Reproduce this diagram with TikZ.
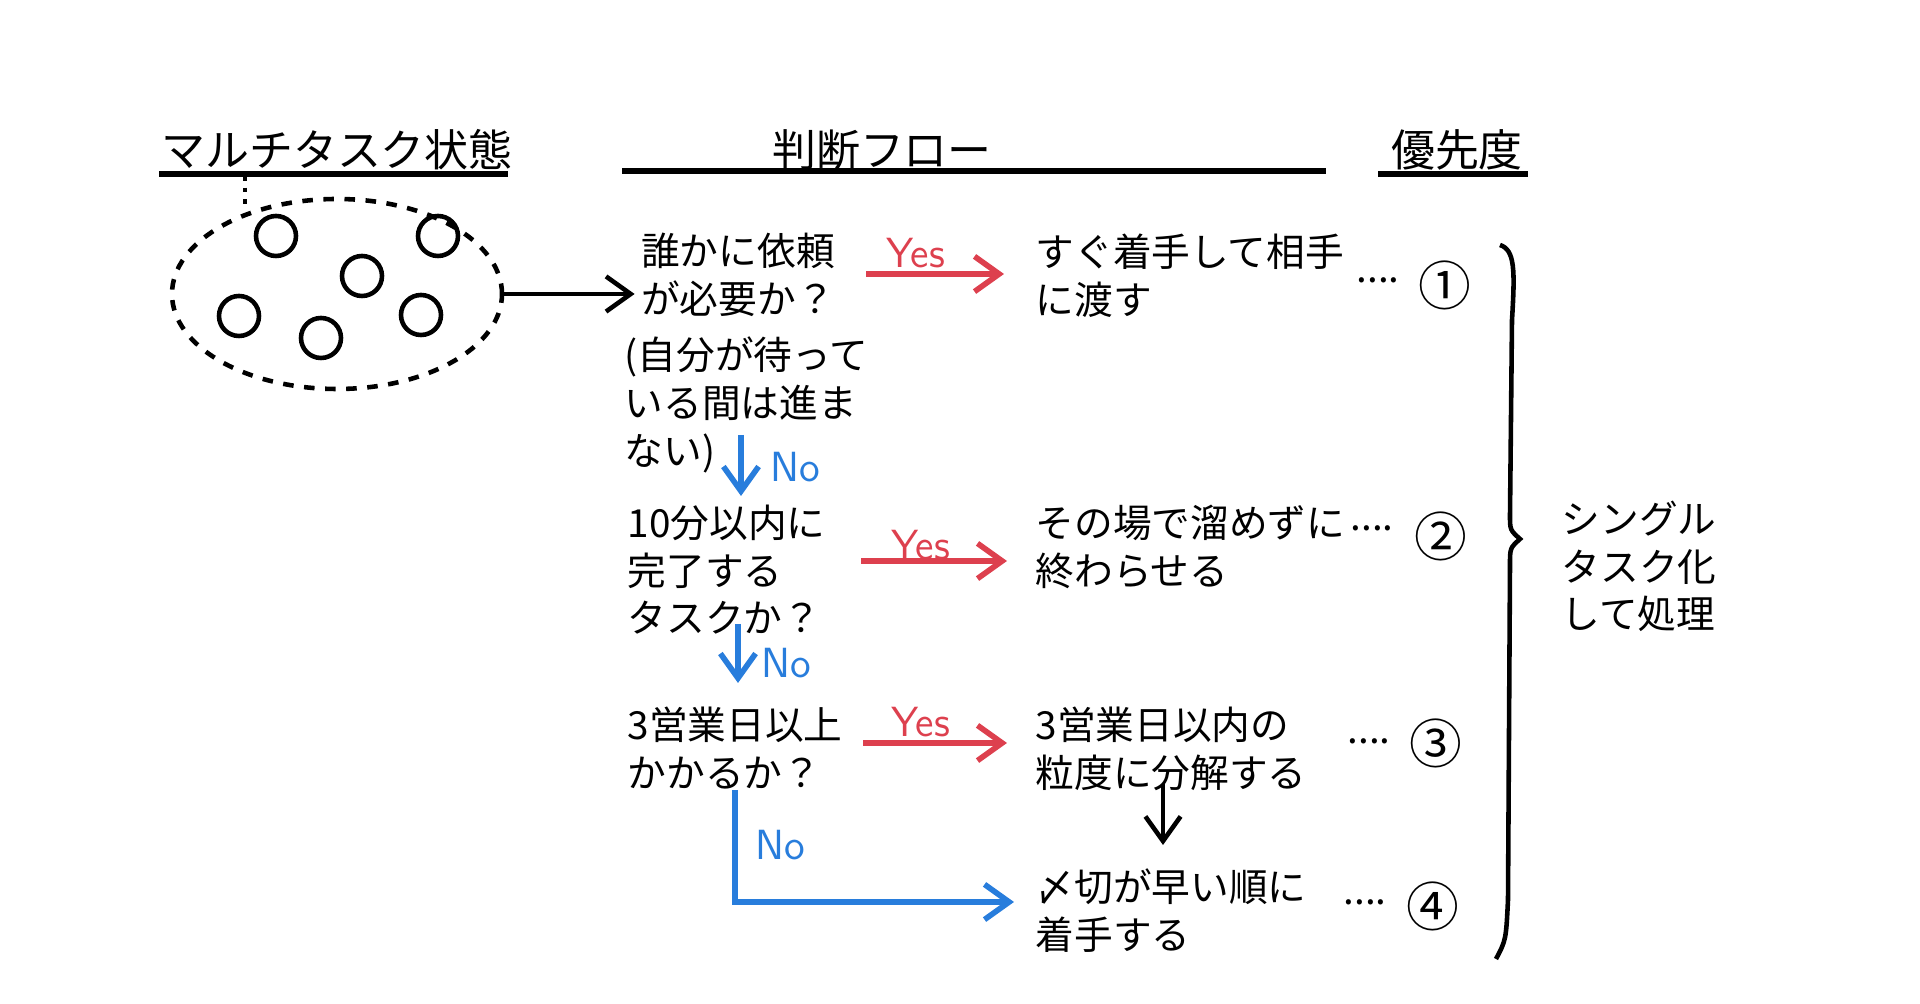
\documentclass[tikz,border=0pt]{standalone}
\usepackage{fontspec}
\setmainfont{Noto Sans CJK JP}
\usetikzlibrary{arrows.meta,shapes.geometric}
\definecolor{myred}{RGB}{221,64,78}
\definecolor{myblue}{RGB}{40,125,220}
\newlength{\pxu}\setlength{\pxu}{0.01cm}
\tikzset{
  txt/.style={font=\fontsize{11}{13.6}\selectfont, align=left, inner sep=0pt, anchor=north west},
  hdr/.style={font=\fontsize{12.5}{14}\selectfont, inner sep=0pt},
  lab/.style={font=\fontsize{12}{13}\selectfont\sffamily, inner sep=0pt},
  yesarr/.style={myred, line width=1.6pt, -{Straight Barb[length=7pt,width=10pt]}},
  noarr/.style={myblue, line width=1.6pt, -{Straight Barb[length=7pt,width=10pt]}},
  blkarr/.style={black, line width=1.3pt, -{Straight Barb[length=7pt,width=10pt]}},
  rule/.style={line width=1.5pt},
  bub/.style={circle, draw, line width=1.3pt, minimum size=40\pxu, inner sep=0pt},
  num/.style={font=\fontsize{15}{16}\selectfont, inner sep=0pt},
  dots/.style={font=\fontsize{11}{12}\selectfont, inner sep=0pt}
}
\begin{document}
\begin{tikzpicture}[x=0.01cm,y=-0.01cm]
\useasboundingbox (0,0) rectangle (1920,1004);
% headers
\node[hdr] (h1) at (337,150) {マルチタスク状態};
\node[hdr] (h2) at (882,150) {判断フロー};
\node[hdr] (h3) at (1457,150) {優先度};
\draw[rule] (159,174) -- (508,174);
\draw[rule] (622,171) -- (1326,171);
\draw[rule] (1378,174) -- (1528,174);
% multitask
\node[draw, dashed, line width=1.3pt, ellipse, minimum width=330\pxu, minimum height=190\pxu] (ell) at (337,294) {};
\coordinate (dtop) at (245,176);
\draw[dotted, line width=1.3pt] (dtop) -- (245,204);
\node[bub] (c1) at (276,236) {};
\node[bub] (c2) at (438,236) {};
\node[bub] (c3) at (362,276) {};
\node[bub] (c4) at (239,316) {};
\node[bub] (c5) at (321,338) {};
\node[bub] (c6) at (421,315) {};
% questions
\node[txt, align=center, anchor=north] (q1) at (738,232) {誰かに依頼\\が必要か？};
\node[txt] (q1n) at (624,336) {(自分が待って\\いる間は進ま\\ない)};
\node[txt] (q2) at (627,504) {10分以内に\\完了する\\タスクか？};
\node[txt] (q3) at (627,706) {3営業日以上\\かかるか？};
% answers
\node[txt] (a1) at (1035,233) {すぐ着手して相手\\に渡す};
\node[txt] (a2) at (1035,504) {その場で溜めずに\\終わらせる};
\node[txt] (a3) at (1035,706) {3営業日以内の\\粒度に分解する};
\node[txt] (a4) at (1035,868) {〆切が早い順に\\着手する};
% arrow to flow
\draw[blkarr] (ell.east) -- ([xshift=-6\pxu]q1.west |- ell.east);
% yes arrows
\coordinate (y1s) at (866,274); \coordinate (y1e) at (1004,274);
\coordinate (y2s) at (861,561); \coordinate (y2e) at (1007,561);
\coordinate (y3s) at (863,743); \coordinate (y3e) at (1007,743);
\draw[yesarr] (y1s) -- (y1e);
\draw[yesarr] (y2s) -- (y2e);
\draw[yesarr] (y3s) -- (y3e);
\node[lab, text=myred] (yl1) at (916,253) {Yes};
\node[lab, text=myred] (yl2) at (921,545) {Yes};
\node[lab, text=myred] (yl3) at (921,722) {Yes};
% no arrows
\coordinate (n1s) at (741,435); \coordinate (n1e) at (741,496);
\coordinate (n2s) at (738,624); \coordinate (n2e) at (738,683);
\coordinate (n3s) at (735,790); \coordinate (n3c) at (735,902); \coordinate (n3e) at (1014,902);
\draw[noarr] (n1s) -- (n1e);
\draw[noarr] (n2s) -- (n2e);
\draw[noarr] (n3s) -- (n3c) -- (n3e);
\node[lab, text=myblue] (nl1) at (795,467) {No};
\node[lab, text=myblue] (nl2) at (786,663) {No};
\node[lab, text=myblue] (nl3) at (780,845) {No};
% a3 -> a4
\coordinate (d1) at (1163,784); \coordinate (d2) at (1163,845);
\draw[blkarr] (d1) -- (d2);
% dots & numbers
\node[dots] (p1) at (1378,280) {....};
\node[dots] (p2) at (1372,528) {....};
\node[dots] (p3) at (1369,741) {....};
\node[dots] (p4) at (1365,902) {....};
\node[num] (r1) at (1445,285) {①};
\node[num] (r2) at (1441,536) {②};
\node[num] (r3) at (1436,743) {③};
\node[num] (r4) at (1433,906) {④};
% brace
\coordinate (bt) at (1500,245); \coordinate (bm) at (1520,539); \coordinate (bb) at (1496,959);
\draw[line width=1.3pt] (bt) .. controls (1515,250) and (1515,270) .. (1512,320)
  -- (1510,515) .. controls (1510,530) .. (bm)
  .. controls (1510,548) .. (1510,565) -- (1508,900) .. controls (1506,940) .. (bb);
\node[txt] (st) at (1561,500) {シングル\\タスク化\\して処理};
\end{tikzpicture}
\end{document}
